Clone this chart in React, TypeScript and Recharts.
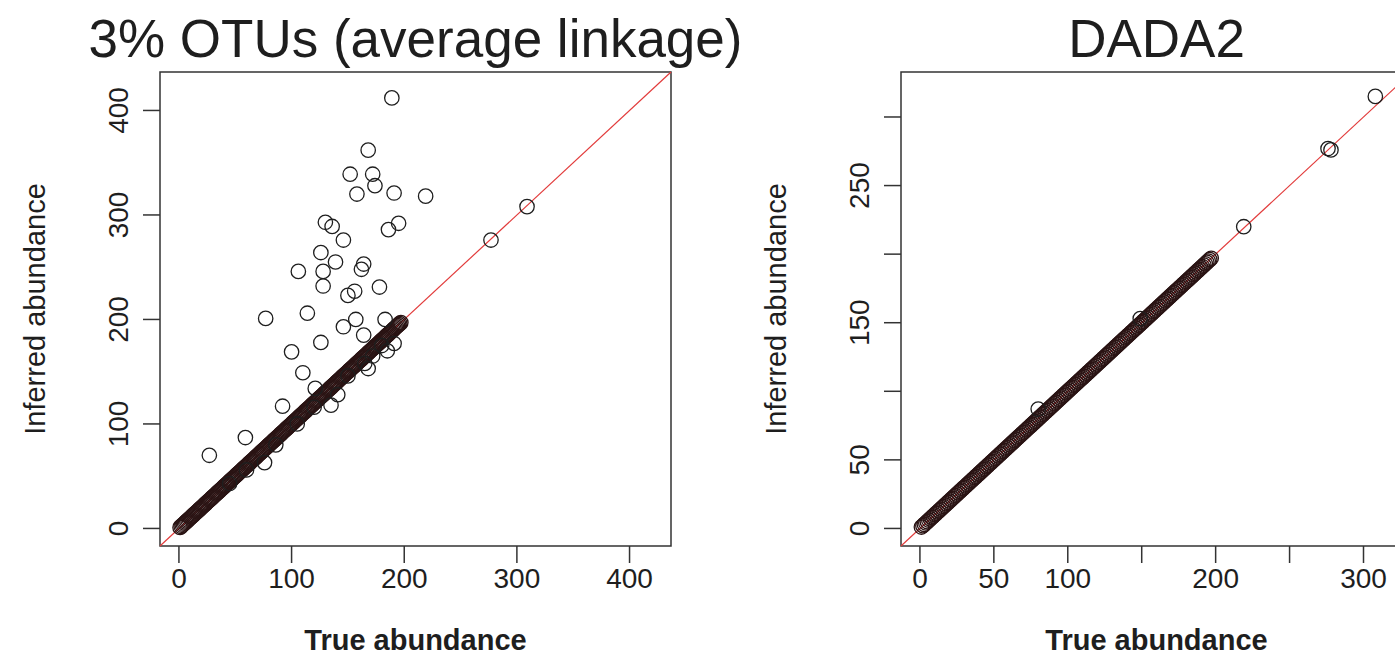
import { ScatterChart, Scatter, XAxis, YAxis, ReferenceLine, ReferenceArea } from "recharts";

// abundances that sit on the diagonal (the dense band), shared by both panels
const bandTrue = [
  1, 2, 3, 4, 5, 6, 7, 8, 9, 10, 11, 12, 13, 14, 15, 16, 17, 18, 19, 20, 21, 22, 23, 24, 25, 26,
  27, 28, 29, 30, 31, 32, 33, 34, 35, 36, 37, 38, 39, 40, 41, 42, 43, 44, 45, 46, 47, 48, 49, 50,
  51, 52, 53, 54, 55, 56, 57, 58, 59, 60, 61, 62, 63, 64, 65, 66, 67, 68, 69, 70, 71, 72, 73, 74,
  75, 76, 77, 78, 79, 80, 81, 82, 83, 84, 85, 86, 87, 88, 89, 90, 91, 92, 93, 94, 95, 96, 97, 98,
  99, 100, 101, 102, 103, 104, 105, 106, 107, 108, 109, 110, 111, 112, 113, 114, 115, 116, 117,
  118, 119, 120, 121, 122, 123, 124, 125, 126, 127, 128, 129, 130, 131, 132, 133, 134, 135, 136,
  137, 138, 139, 140, 141, 142, 143, 144, 145, 146, 147, 148, 149, 150, 151, 152, 153, 154, 155,
  156, 157, 158, 159, 160, 161, 162, 163, 164, 165, 166, 167, 168, 169, 170, 171, 172, 173, 174,
  175, 176, 177, 178, 179, 180, 181, 182, 183, 184, 185, 186, 187, 188, 189, 190, 191, 192, 193,
  194, 195, 196, 197,
];

// 3% OTU panel: points off the band
const otuTrue = [
  189, 168, 152, 172, 174, 158, 191, 219, 130, 136, 195, 186, 146, 126, 139, 164, 162, 128, 106,
  128, 178, 156, 150, 114, 77, 157, 183, 146, 164, 126, 100, 191, 185, 110, 168, 121, 141, 135, 92,
  59, 27, 76, 277, 309, 60, 86, 105, 150, 172, 180, 165, 45, 120,
];
const otuInferred = [
  412, 362, 339, 339, 328, 320, 321, 318, 293, 289, 292, 286, 276, 264, 255, 253, 248, 246, 246,
  232, 231, 227, 223, 206, 201, 200, 200, 193, 185, 178, 169, 177, 170, 149, 153, 134, 128, 118,
  117, 87, 70, 63, 276, 308, 56, 80, 100, 146, 165, 175, 158, 43, 116,
];

// DADA2 panel: points off the band
const dadaTrue = [308, 276, 278, 219, 80, 149];
const dadaInferred = [315, 277, 276, 220, 87, 153];

const otuTicks = [0, 100, 200, 300, 400];
const otuXLabels = [0, 100, 200, 300, 400];
const otuYLabels = [0, 100, 200, 300, 400];
const dadaTicks = [0, 50, 100, 150, 200, 250, 300];
const dadaXLabels = [0, 50, 100, 200, 300];
const dadaYLabels = [0, 50, 150, 250];

const otuDomain: [number, number] = [-16.8, 436.8];
const dadaDomain: [number, number] = [-12.8, 332.8];

const FONT = "'Liberation Sans', Arial, Helvetica, sans-serif";
const INK = "#1e1e1e";
const W = 700;
const H = 662;

const toRows = (xs: number[], ys: number[]) => xs.map((x, i) => ({ x, y: ys[i] }));

const bandRows = toRows(bandTrue, bandTrue);
const otuRows = toRows(otuTrue, otuInferred);
const dadaRows = toRows(dadaTrue, dadaInferred);

const ring = (color: string) => (p: any) => (
  <circle cx={p.cx} cy={p.cy} r={7.2} fill="none" stroke={color} strokeWidth={1.3} />
);

const XTick = ({ x, y, payload, shown }: any) => (
  <g>
    <line x1={x} y1={y} x2={x} y2={y + 17} stroke="#333" strokeWidth={1.5} />
    {shown.includes(payload.value) ? (
      <text x={x} y={y + 42} textAnchor="middle" fontSize={28} fontFamily={FONT} fill={INK}>
        {payload.value}
      </text>
    ) : null}
  </g>
);

const YTick = ({ x, y, payload, shown }: any) => (
  <g>
    <line x1={x} y1={y} x2={x - 17} y2={y} stroke="#333" strokeWidth={1.5} />
    {shown.includes(payload.value) ? (
      <text
        x={x - 32}
        y={y}
        transform={`rotate(-90 ${x - 32} ${y})`}
        textAnchor="middle"
        fontSize={28}
        fontFamily={FONT}
        fill={INK}
      >
        {payload.value}
      </text>
    ) : null}
  </g>
);

type PanelProps = {
  title: string;
  rows: { x: number; y: number }[];
  domain: [number, number];
  ticks: number[];
  xLabels: number[];
  yLabels: number[];
  left: number;
};

const Panel = ({ title, rows, domain, ticks, xLabels, yLabels, left }: PanelProps) => (
  <div style={{ position: "absolute", left, top: 0, width: W, height: H }}>
    <ScatterChart width={W} height={H} margin={{ top: 72, right: 29, bottom: 16, left: 20 }}>
      <XAxis
        type="number"
        dataKey="x"
        domain={domain}
        ticks={ticks}
        interval={0}
        allowDataOverflow
        axisLine={false}
        tickLine={false}
        tickSize={0}
        tickMargin={0}
        height={100}
        tick={(p: any) => <XTick {...p} shown={xLabels} />}
      />
      <YAxis
        type="number"
        dataKey="y"
        domain={domain}
        ticks={ticks}
        interval={0}
        allowDataOverflow
        axisLine={false}
        tickLine={false}
        tickSize={0}
        tickMargin={0}
        width={140}
        tick={(p: any) => <YTick {...p} shown={yLabels} />}
      />
      <ReferenceArea
        x1={domain[0]}
        x2={domain[1]}
        y1={domain[0]}
        y2={domain[1]}
        fill="none"
        stroke="#333"
        strokeWidth={1.5}
        ifOverflow="visible"
      />
      <Scatter data={bandRows} isAnimationActive={false} shape={ring("#2a1414")} />
      <Scatter data={rows} isAnimationActive={false} shape={ring(INK)} />
      <ReferenceLine
        segment={[
          { x: domain[0], y: domain[0] },
          { x: domain[1], y: domain[1] },
        ]}
        stroke="#e23b3b"
        strokeWidth={1.2}
        ifOverflow="visible"
      />
    </ScatterChart>
    <svg
      width={W}
      height={H}
      style={{ position: "absolute", left: 0, top: 0, pointerEvents: "none", overflow: "visible" }}
    >
      <text x={415.5} y={57} textAnchor="middle" fontSize={53} fontFamily={FONT} fill={INK}>
        {title}
      </text>
      <text
        x={45}
        y={309}
        transform="rotate(-90 45 309)"
        textAnchor="middle"
        fontSize={29}
        fontFamily={FONT}
        fill={INK}
      >
        Inferred abundance
      </text>
      <text x={415.5} y={650} textAnchor="middle" fontSize={29} fontWeight="bold" fontFamily={FONT} fill={INK}>
        True abundance
      </text>
    </svg>
  </div>
);

export default function App() {
  return (
    <div
      style={{
        position: "fixed",
        left: 0,
        top: 0,
        width: 1395,
        height: 662,
        overflow: "hidden",
        background: "#fff",
      }}
    >
      <Panel
        title="3% OTUs (average linkage)"
        rows={otuRows}
        domain={otuDomain}
        ticks={otuTicks}
        xLabels={otuXLabels}
        yLabels={otuYLabels}
        left={0}
      />
      <Panel
        title="DADA2"
        rows={dadaRows}
        domain={dadaDomain}
        ticks={dadaTicks}
        xLabels={dadaXLabels}
        yLabels={dadaYLabels}
        left={741}
      />
    </div>
  );
}
